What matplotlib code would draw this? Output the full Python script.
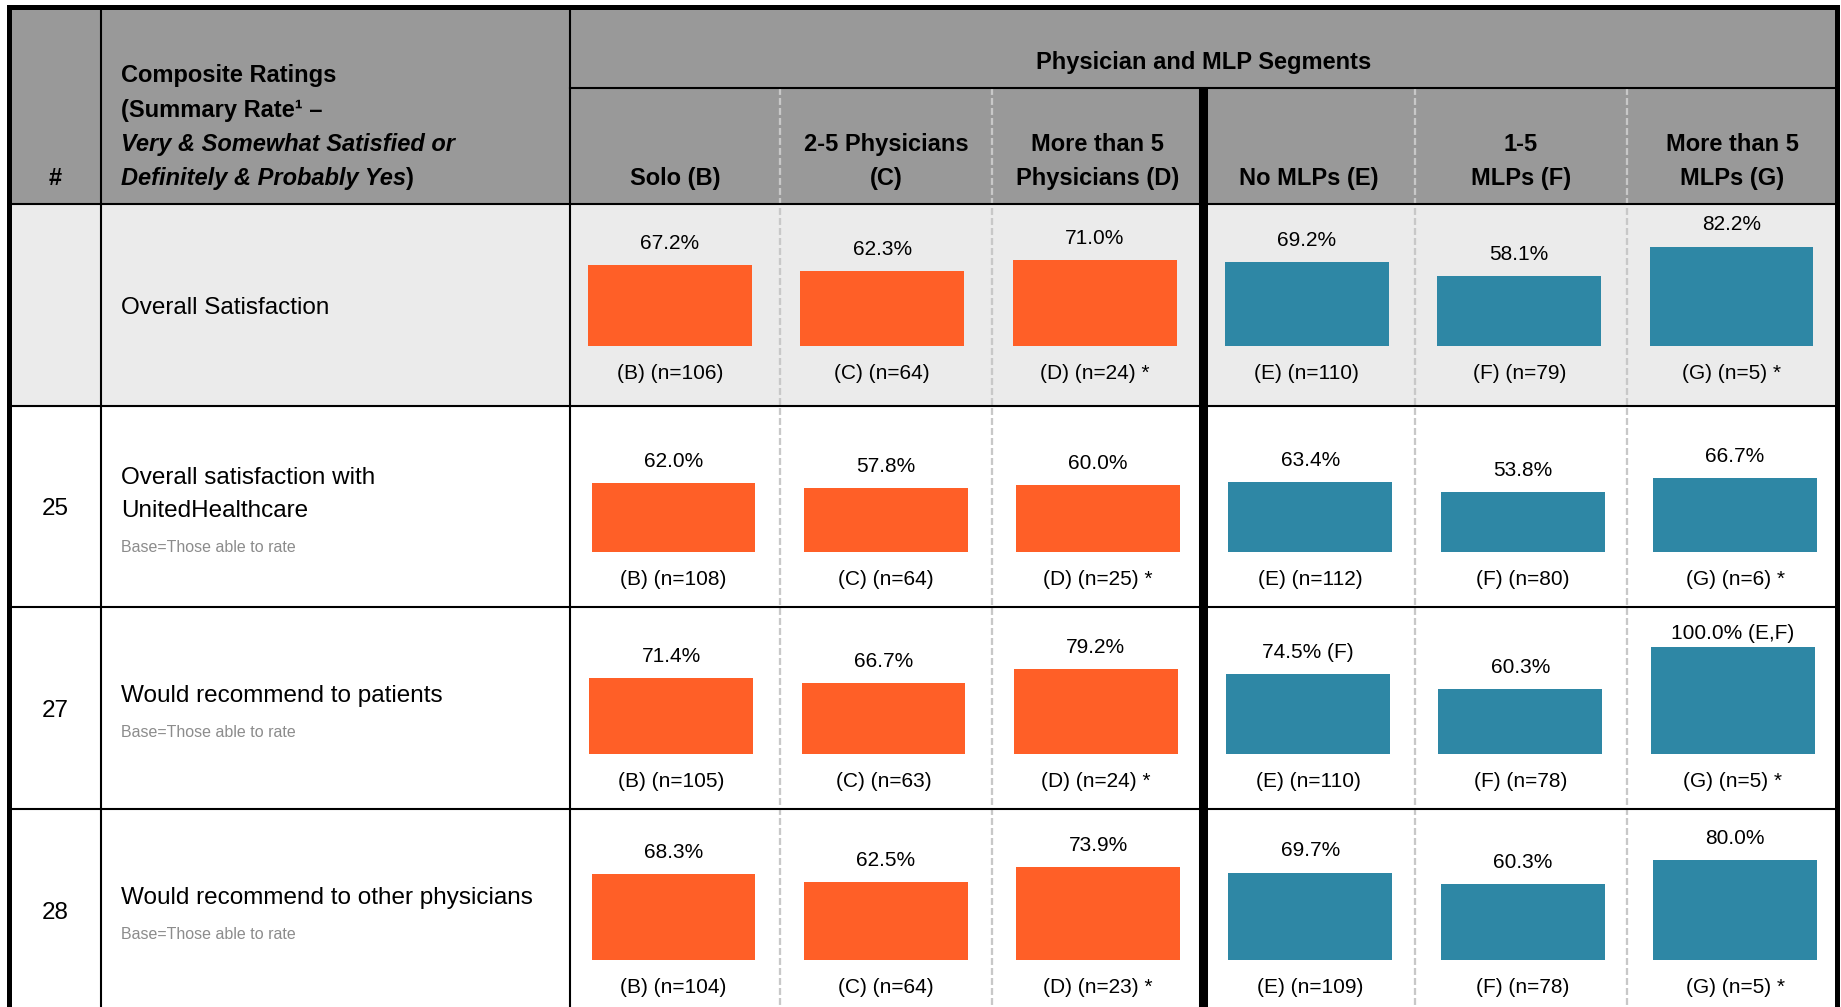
import matplotlib
matplotlib.use("Agg")
import matplotlib.pyplot as plt
from matplotlib.patches import Rectangle

plt.rcParams['font.family'] = ['Liberation Sans', 'DejaVu Sans']

# ---- data ----
segments = ["Solo (B)", "2-5 Physicians\n(C)", "More than 5\nPhysicians (D)",
            "No MLPs (E)", "1-5\nMLPs (F)", "More than 5\nMLPs (G)"]
letters = ["B", "C", "D", "E", "F", "G"]
row_numbers = ["", "25", "27", "28"]
row_labels = ["Overall Satisfaction",
              "Overall satisfaction with\nUnitedHealthcare",
              "Would recommend to patients",
              "Would recommend to other physicians"]
row_bases = ["", "Base=Those able to rate", "Base=Those able to rate",
             "Base=Those able to rate"]

overall = [67.2, 62.3, 71.0, 69.2, 58.1, 82.2]
uhc = [62.0, 57.8, 60.0, 63.4, 53.8, 66.7]
rec_patients = [71.4, 66.7, 79.2, 74.5, 60.3, 100.0]
rec_physicians = [68.3, 62.5, 73.9, 69.7, 60.3, 80.0]

n_overall = [106, 64, 24, 110, 79, 5]
n_uhc = [108, 64, 25, 112, 80, 6]
n_patients = [105, 63, 24, 110, 78, 5]
n_physicians = [104, 64, 23, 109, 78, 5]

no_sig = ["", "", "", "", "", ""]
sig_patients = ["", "", "", "F", "", "E,F"]

rows_values = [overall, uhc, rec_patients, rec_physicians]
rows_n = [n_overall, n_uhc, n_patients, n_physicians]
rows_sig = [no_sig, no_sig, sig_patients, no_sig]

# ---- layout (pixels) ----
W, H = 1841, 1007
DPI = 100
col_edges = [9, 101.5, 570, 780, 992, 1203, 1415, 1627, 1837]
row_edges = [7, 204, 406, 607, 809, 1012]
sub_line = 88
baselines = [346, 552, 754, 960]
px_per_pct = [1.21, 1.11, 1.07, 1.255]
first_bar_center = [670, 673.5, 671.2, 673.5]
bar_step = 212.3
label_ceiling = [17, 24, 25, 24]

orange = '#FF5F27'
teal = '#2E87A5'
header_gray = '#999999'
row_gray = '#EBEBEB'
dash_gray = '#C8C8C8'
bar_colors = [orange] * 3 + [teal] * 3


def halfcap(size):
    return 0.358 * size * DPI / 72


fig = plt.figure(figsize=(W / DPI, H / DPI), dpi=DPI)
bg = fig.add_axes([0, 0, 1, 1])
bg.set_xlim(0, W)
bg.set_ylim(H, 0)
bg.axis('off')


def put(x, yc, s, size, **kw):
    return bg.text(x, yc + halfcap(size), s, fontsize=size, va='baseline', **kw)


# backgrounds
bg.add_patch(Rectangle((col_edges[0], row_edges[0]), col_edges[-1] - col_edges[0],
                       row_edges[1] - row_edges[0], color=header_gray, zorder=0))
bg.add_patch(Rectangle((col_edges[0], row_edges[1]), col_edges[-1] - col_edges[0],
                       row_edges[2] - row_edges[1], color=row_gray, zorder=0))

# grid lines
lw_thin = 1.5
for y in row_edges[1:-1]:
    bg.plot([col_edges[0], col_edges[-1]], [y, y], color='black', lw=lw_thin, zorder=2)
bg.plot([col_edges[2], col_edges[-1]], [sub_line, sub_line], color='black', lw=lw_thin, zorder=2)
for x in col_edges[1:3]:
    bg.plot([x, x], [row_edges[0], H + 10], color='black', lw=lw_thin, zorder=2)
dash_lw = 1.65
for x in [col_edges[3], col_edges[4], col_edges[6], col_edges[7]]:
    bg.plot([x, x], [sub_line, H + 10], color=dash_gray, lw=dash_lw,
            linestyle=(0, (5.0 / dash_lw, 2.2 / dash_lw)), zorder=1)
bg.plot([col_edges[5], col_edges[5]], [sub_line, H + 10], color='black', lw=6.5,
        solid_capstyle='butt', zorder=3)
# outer border
bg.plot([col_edges[0], col_edges[0], col_edges[-1], col_edges[-1]],
        [H + 10, row_edges[0], row_edges[0], H + 10], color='black', lw=3.6,
        zorder=4, solid_joinstyle='miter')

# header texts
hsize = 17
put((col_edges[0] + col_edges[1]) / 2, 177, "#", hsize, ha='center', weight='bold')
put(121, 74, "Composite Ratings", hsize, weight='bold')
put(121, 109, "(Summary Rate\u00b9 \u2013", hsize, weight='bold')
put(121, 143, "Very & Somewhat Satisfied or", hsize, weight='bold', style='italic')
t_it = put(121, 177, "Definitely & Probably Yes", hsize, weight='bold', style='italic')
bg.annotate(")", xy=(1, 0), xycoords=t_it, ha='left', va='bottom',
            fontsize=hsize, weight='bold')
put((col_edges[2] + col_edges[-1]) / 2, 61, "Physician and MLP Segments", hsize,
    ha='center', weight='bold')
for i, seg in enumerate(segments):
    cx = (col_edges[2 + i] + col_edges[3 + i]) / 2
    lines = seg.split("\n")
    ys = [177] if len(lines) == 1 else [143, 177]
    for line, y in zip(lines, ys):
        put(cx, y, line, hsize, ha='center', weight='bold')

# row label texts
lsize = 17.5
line_gap = 33
base_gap = 38
for r in range(4):
    top, bot = row_edges[r + 1], row_edges[r + 2]
    mid = (top + bot) / 2
    if row_numbers[r]:
        put((col_edges[0] + col_edges[1]) / 2, mid, row_numbers[r], lsize, ha='center')
    lines = row_labels[r].split("\n")
    if not row_bases[r]:
        put(121, mid, lines[0], lsize)
        continue
    block = line_gap * (len(lines) - 1) + base_gap
    first = mid + 4 - block / 2
    for k, line in enumerate(lines):
        put(121, first + line_gap * k, line, lsize)
    put(121, first + block, row_bases[r], 11.5, color='#8C8C8C')

# bar charts, one axes per row
vsize = 15
for r in range(4):
    top = row_edges[r + 1]
    b = baselines[r]
    s = px_per_pct[r]
    left = first_bar_center[r] - bar_step / 2
    ax = fig.add_axes([left / W, (H - b) / H, 6 * bar_step / W, (b - top) / H])
    ax.set_xlim(-0.5, 5.5)
    ymax = (b - top) / s
    ax.set_ylim(0, ymax)
    ax.axis('off')
    ax.patch.set_alpha(0)
    vals = rows_values[r]
    ax.bar(range(6), vals, width=0.772, color=bar_colors, zorder=2)
    for i, v in enumerate(vals):
        label = f"{v:.1f}%"
        if rows_sig[r][i]:
            label += f" ({rows_sig[r][i]})"
        yc = min(v + 23.5 / s, ymax - label_ceiling[r] / s)
        ax.text(i, yc - halfcap(vsize) / s, label, fontsize=vsize, ha='center',
                va='baseline')
        nl = f"({letters[i]}) (n={rows_n[r][i]})"
        if rows_n[r][i] < 30:
            nl += " *"
        ax.text(i, -26 / s - halfcap(vsize) / s, nl, fontsize=vsize, ha='center',
                va='baseline')

fig.savefig("out.png", dpi=DPI, facecolor='white')
